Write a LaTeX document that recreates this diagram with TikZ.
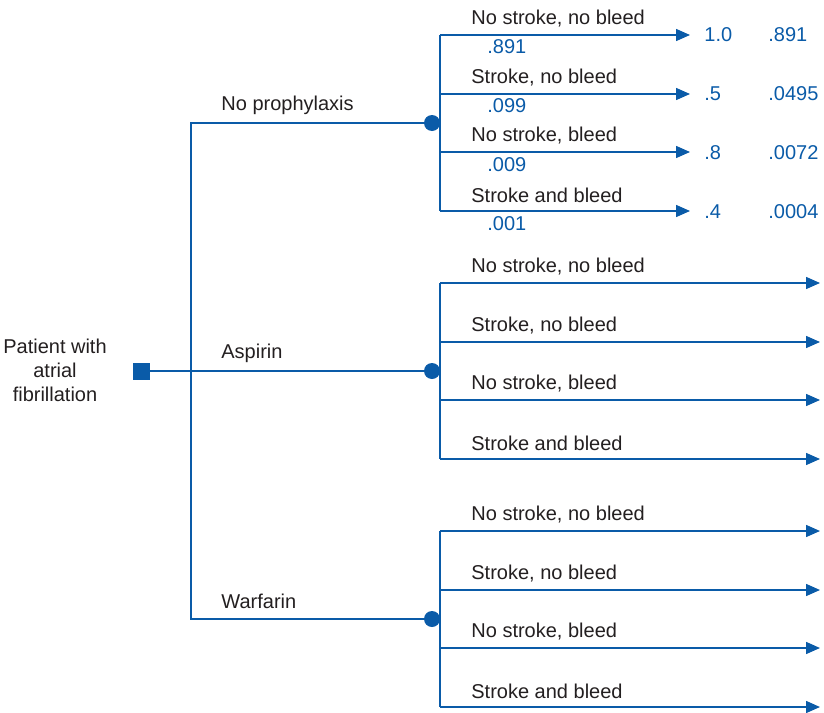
\documentclass[tikz,border=0pt]{standalone}
\usepackage{fontspec}
\setmainfont{Liberation Sans}
\usetikzlibrary{arrows.meta,positioning}
\definecolor{treeblue}{HTML}{0A5BA8}
\definecolor{txtgray}{HTML}{231F20}

\begin{document}
\begin{tikzpicture}[x=0.5pt,y=-0.5pt,every node/.style={font=\fontsize{10}{12}\selectfont,text=txtgray},
  branch/.style={draw=treeblue,line width=.75pt},
  leaf/.style={branch,-{Triangle[length=7pt,width=6pt]}},
  lab/.style={anchor=west,inner xsep=0pt},
  prob/.style={anchor=west,inner xsep=0pt,text=treeblue}]
\useasboundingbox (0,0) rectangle (824,712);
% decision node
\node[fill=treeblue,minimum size=8.5pt,inner sep=0pt] (dec) at (141,371) {};
\node[align=center] (pat) at (55,370) {Patient with\\atrial\\fibrillation};
\coordinate (split) at (191,371);
\draw[branch] (dec) -- (split);
% strategies
\foreach \g/\yc/\xe/\name in {1/123/690/No prophylaxis,2/371/820/Aspirin,3/619/820/Warfarin}{
  \draw[branch] (split) |- (432,\yc);
  \node[circle,fill=treeblue,minimum size=8pt,inner sep=0pt] (c\g) at (432,\yc) {};
  \node[lab] (s\g) at (221,\yc-18) {\name};
  \foreach \k/\dy/\txt in {1/-88/{No stroke, no bleed},2/-29/{Stroke, no bleed},3/29/{No stroke, bleed},4/88/{Stroke and bleed}}{
    \coordinate (o\g\k) at (440,\yc+\dy);
    \coordinate (e\g\k) at (\xe,\yc+\dy);
    \draw[leaf] (o\g\k) -- (e\g\k);
    \node[lab] (t\g\k) at (471,\yc+\dy-16) {\txt};
  }
  \draw[branch] (o\g1) -- (o\g4);
}
% probabilities and payoffs
\foreach \k/\p/\u/\v in {1/.891/1.0/.891,2/.099/.5/.0495,3/.009/.8/.0072,4/.001/.4/.0004}{
  \node[prob] (p\k) at (487,123-88+59*\k-59+12) {\p};
  \node[prob] (u\k) at (704,123-88+59*\k-59) {\u};
  \node[prob] (v\k) at (768,123-88+59*\k-59) {\v};
}
\end{tikzpicture}
\end{document}
